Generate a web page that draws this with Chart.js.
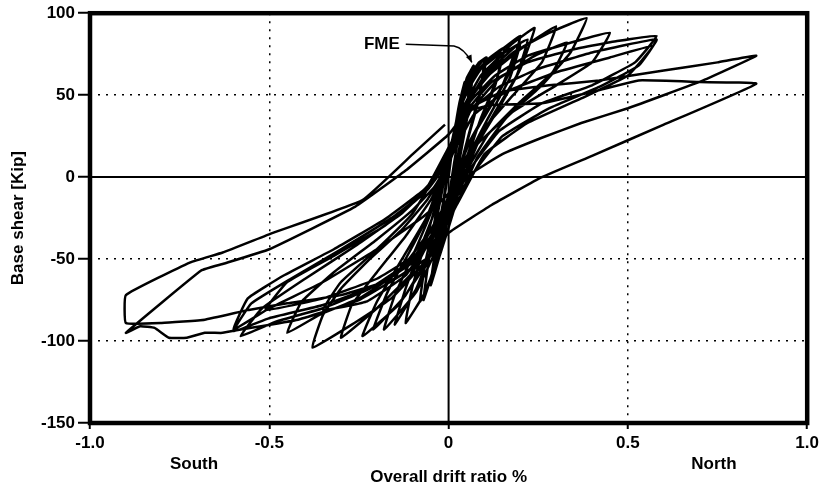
<!DOCTYPE html>
<html>
<head>
<meta charset="utf-8">
<script src="https://cdn.jsdelivr.net/npm/chart.js@4.4.0/dist/chart.umd.min.js"></script>
<style>
  html, body { margin: 0; padding: 0; background: #fff; }
</style>
</head>
<body>
<canvas id="chart" width="823" height="492"></canvas>
<script>
// hysteresis trace, one cycle per line (drift ratio %, base shear kip)
const driftRatio = [
  0,
  0.015, 0.03, 0.045, 0.035, 0.015, -0.005, -0.02, -0.035, -0.025, -0.01,
  0.01, 0.03, 0.05, 0.065, 0.05, 0.025, 0.0, -0.02, -0.045, -0.035, -0.015,
  0.01, 0.035, 0.055, 0.07, 0.055, 0.03, 0.005, -0.025, -0.05, -0.035, -0.015,
  0.005, 0.035, 0.06, 0.085, 0.106, 0.085, 0.055, 0.025, -0.01, -0.04, -0.065, -0.08, -0.065, -0.04, -0.02,
  0.01, 0.04, 0.07, 0.1, 0.085, 0.05, 0.02, -0.015, -0.045, -0.07, -0.055, -0.03,
  0.0, 0.03, 0.07, 0.11, 0.156, 0.135, 0.09, 0.05, 0.015, -0.025, -0.07, -0.12, -0.1, -0.065, -0.03,
  0.005, 0.04, 0.08, 0.15, 0.13, 0.08, 0.04, 0.0, -0.04, -0.07, -0.055, -0.03,
  0.0, 0.04, 0.09, 0.15, 0.22, 0.19, 0.13, 0.07, 0.02, -0.03, -0.09, -0.18, -0.15, -0.1, -0.05,
  0.0, 0.04, 0.09, 0.15, 0.2, 0.17, 0.12, 0.06, 0.01, -0.04, -0.09, -0.15, -0.12, -0.08, -0.03,
  -0.01, 0.04, 0.1, 0.17, 0.24, 0.2, 0.14, 0.08, 0.02, -0.04, -0.12, -0.21, -0.17, -0.11, -0.05,
  0.0, 0.05, 0.11, 0.2, 0.17, 0.11, 0.05, 0.0, -0.06, -0.14, -0.24, -0.2, -0.13, -0.06,
  0.0, 0.05, 0.1, 0.18, 0.15, 0.1, 0.05, 0.0, -0.07, -0.2, -0.35, -0.5, -0.6, -0.56, -0.46, -0.32, -0.18, -0.07,
  0.0, 0.05, 0.12, 0.2, 0.3, 0.26, 0.18, 0.1, 0.03, -0.03, -0.1, -0.2, -0.3, -0.27, -0.2, -0.12, -0.05,
  -0.02, 0.03, 0.09, 0.18, 0.28, 0.385, 0.34, 0.26, 0.16, 0.08, 0.02, -0.06, -0.16, -0.27, -0.38, -0.35, -0.3, -0.22, -0.13, -0.06,
  0.0, 0.06, 0.14, 0.24, 0.33, 0.29, 0.2, 0.11, 0.04, -0.03, -0.12, -0.23, -0.35, -0.3, -0.2, -0.1,
  0.0, 0.06, 0.13, 0.22, 0.34, 0.45, 0.4, 0.3, 0.18, 0.08, 0.02, -0.05, -0.14, -0.25, -0.36, -0.45, -0.41, -0.32, -0.2, -0.1, -0.04,
  -0.01, 0.05, 0.12, 0.22, 0.35, 0.47, 0.58, 0.52, 0.4, 0.26, 0.14, 0.06, -0.02, -0.1, -0.22, -0.35, -0.48, -0.58, -0.52, -0.4, -0.26, -0.13, -0.05,
  0.0, 0.06, 0.14, 0.25, 0.4, 0.58, 0.53, 0.42, 0.28, 0.15, 0.06, -0.02, -0.1, -0.2, -0.35, -0.5, -0.6, -0.55, -0.44, -0.3, -0.16, -0.06,
  0.0, 0.07, 0.16, 0.3, 0.45, 0.57, 0.5, 0.37, 0.22, 0.1, 0.02, -0.07, -0.2, -0.35, -0.51, -0.45, -0.32, -0.18, -0.07,
  0.0, 0.06, 0.15, 0.28, 0.42, 0.6, 0.75, 0.858, 0.71, 0.5, 0.37, 0.26, 0.15, 0.05, -0.02, -0.1, -0.25, -0.42, -0.58, -0.63, -0.68, -0.73, -0.78, -0.82, -0.86, -0.9, -0.69, -0.63, -0.5, -0.26, -0.12, 0.0,
  0.05, 0.12, 0.26, 0.4, 0.53, 0.7, 0.858, 0.6, 0.4, 0.26, 0.12, 0.0, -0.05, -0.15, -0.3, -0.45, -0.557, -0.68, -0.8, -0.9, -0.9, -0.72, -0.63, -0.49, -0.24, -0.1, -0.01
];
const baseShear = [
  0,
  25, 45, 58, 35, 8, -20, -40, -55, -32, -10,
  18, 42, 60, 66, 42, 12, -18, -42, -62, -40, -15,
  20, 48, 62, 68, 40, 10, -18, -48, -66, -42, -16,
  10, 45, 62, 70, 73, 50, 25, 0, -30, -55, -70, -76, -52, -28, -5,
  18, 48, 64, 72, 48, 20, -8, -36, -58, -75, -50, -22,
  12, 42, 62, 72, 79, 60, 36, 10, -20, -48, -72, -89, -66, -40, -12,
  15, 46, 64, 76, 56, 30, 5, -25, -55, -75, -50, -20,
  10, 42, 62, 75, 84, 62, 40, 16, -14, -42, -70, -93, -72, -48, -22,
  14, 48, 66, 78, 86, 64, 44, 22, -6, -40, -68, -90, -68, -44, -16,
  5, 40, 62, 80, 91, 66, 42, 20, -12, -42, -72, -93, -70, -46, -20,
  12, 45, 64, 82, 60, 36, 10, -22, -52, -78, -97, -76, -50, -24,
  12, 44, 60, 74, 56, 38, 18, -10, -24, -44, -64, -80, -93, -74, -60, -44, -26, -8,
  10, 45, 64, 78, 92, 70, 50, 30, 5, -28, -58, -80, -98, -78, -58, -36, -14,
  0, 35, 58, 76, 88, 97, 76, 56, 36, 12, -18, -50, -74, -90, -104, -84, -68, -50, -32, -14,
  8, 40, 60, 74, 82, 64, 46, 26, 0, -30, -60, -76, -81, -64, -44, -22,
  15, 46, 62, 74, 82, 88, 70, 56, 40, 20, -5, -32, -58, -74, -84, -95, -76, -58, -38, -20, -6,
  5, 40, 58, 70, 78, 83, 86, 70, 56, 45, 28, 5, -22, -50, -68, -80, -88, -97, -80, -62, -42, -22, -5,
  12, 40, 55, 66, 76, 84, 68, 55, 42, 25, 0, -26, -52, -66, -78, -86, -94, -77, -62, -44, -25, -8,
  10, 38, 52, 64, 73, 80, 62, 48, 33, 14, -18, -44, -62, -74, -81, -64, -48, -30, -10,
  18, 42, 52, 56, 59, 65, 70, 74, 59, 42, 33, 24, 14, 0, -28, -55, -75, -87, -93, -95, -95, -98, -98, -92, -91, -95, -57, -53, -44, -18, 4, 26,
  40, 44, 45, 52, 59, 58, 57, 32, 13, 0, -17, -34, -48, -62, -72, -77, -81, -87, -89, -89, -72, -52, -46, -34, -14, 14, 32
];

const xTicks = [-1, -0.5, 0, 0.5, 1];
const yTicks = [100, 50, 0, -50, -100, -150];
const sideLabels = [{ text: "South", at: -0.71 }, { text: "North", at: 0.74 }];
const note = { text: "FME", textAt: [-0.125, 81], bend: [0.015, 80], tip: [0.065, 70] };

const font = { family: "'Liberation Sans', Arial, sans-serif", size: 17, weight: "bold" };
Chart.defaults.font.family = font.family;
Chart.defaults.color = "#000";

const points = driftRatio.map((d, i) => ({ x: d, y: baseShear[i] }));

// dotted grid only on the inner ticks, zero and edges handled elsewhere
function inner(ctx, lo, hi) {
  const v = ctx.tick && ctx.tick.value;
  return (v === 0 || v === lo || v === hi) ? "rgba(0,0,0,0)" : "#000";
}

const extras = {
  id: "extras",
  beforeDatasetsDraw(chart) {
    const { ctx, chartArea: a, scales: { x, y } } = chart;
    const x0 = x.getPixelForValue(0), y0 = y.getPixelForValue(0);
    ctx.save();
    ctx.strokeStyle = "#000";
    ctx.lineWidth = 2;
    ctx.beginPath();
    ctx.moveTo(a.left, y0); ctx.lineTo(a.right, y0);
    ctx.moveTo(x0, a.top); ctx.lineTo(x0, a.bottom);
    ctx.stroke();
    ctx.restore();
  },
  afterDraw(chart) {
    const { ctx, chartArea: a, scales: { x, y } } = chart;
    ctx.save();
    ctx.strokeStyle = "#000";
    ctx.lineWidth = 4.5;
    ctx.strokeRect(a.left, a.top, a.right - a.left, a.bottom - a.top);

    ctx.fillStyle = "#000";
    ctx.font = "bold 17px 'Liberation Sans', Arial, sans-serif";
    ctx.textAlign = "center";
    ctx.textBaseline = "middle";
    sideLabels.forEach(l => ctx.fillText(l.text, x.getPixelForValue(l.at), a.bottom + 41));

    // FME callout
    const tx = x.getPixelForValue(note.textAt[0]), ty = y.getPixelForValue(note.textAt[1]);
    const bx = x.getPixelForValue(note.bend[0]), by = y.getPixelForValue(note.bend[1]);
    const px = x.getPixelForValue(note.tip[0]), py = y.getPixelForValue(note.tip[1]);
    ctx.textAlign = "right";
    ctx.fillText(note.text, tx - 4, ty);
    ctx.lineWidth = 1.5;
    ctx.beginPath();
    ctx.moveTo(tx + 2, ty);
    ctx.lineTo(bx, by);
    ctx.quadraticCurveTo(bx + 10, by + 2, px, py);
    ctx.stroke();
    const ang = Math.atan2(py - by, px - bx - 10);
    ctx.beginPath();
    ctx.moveTo(px, py);
    ctx.lineTo(px - 8 * Math.cos(ang - 0.4), py - 8 * Math.sin(ang - 0.4));
    ctx.lineTo(px - 8 * Math.cos(ang + 0.4), py - 8 * Math.sin(ang + 0.4));
    ctx.closePath();
    ctx.fill();
    ctx.restore();
  }
};

new Chart(document.getElementById("chart"), {
  type: "scatter",
  data: {
    datasets: [{
      label: "Base shear",
      data: points,
      showLine: true,
      borderColor: "#000",
      borderWidth: 2.5,
      pointRadius: 0,
      tension: 0.1
    }]
  },
  options: {
    responsive: false,
    animation: false,
    layout: { padding: { left: 0, right: 15, top: 13, bottom: 0 } },
    plugins: { legend: { display: false }, tooltip: { enabled: false } },
    scales: {
      x: {
        type: "linear",
        min: -1, max: 1,
        afterBuildTicks: s => { s.ticks = xTicks.map(v => ({ value: v })); },
        afterFit: s => { s.height = 69; },
        grid: {
          color: c => inner(c, -1, 1),
          lineWidth: 1.5,
          tickColor: "#000",
          tickWidth: 2,
          tickLength: 6,
          tickBorderDash: []
        },
        border: { display: false, dash: [2, 6] },
        ticks: {
          font: font, color: "#000", padding: 4, maxRotation: 0, autoSkip: false,
          callback: v => v === 0 ? "0" : v.toFixed(1)
        },
        title: {
          display: true, text: "Overall drift ratio %", color: "#000", font: font,
          padding: { top: 0, bottom: 4 }
        }
      },
      y: {
        type: "linear",
        min: -150, max: 100,
        afterBuildTicks: s => { s.ticks = yTicks.map(v => ({ value: v })); },
        afterFit: s => { s.width = 90; },
        grid: {
          color: c => inner(c, -150, 100),
          lineWidth: 1.5,
          tickColor: "#000",
          tickWidth: 2,
          tickLength: 12,
          tickBorderDash: []
        },
        border: { display: false, dash: [2, 6] },
        ticks: {
          font: font, color: "#000", padding: 3, autoSkip: false,
          callback: v => String(v)
        },
        title: {
          display: true, text: "Base shear [Kip]", color: "#000", font: font,
          padding: { top: 8, bottom: 0 }
        }
      }
    }
  },
  plugins: [extras]
});
</script>
</body>
</html>
